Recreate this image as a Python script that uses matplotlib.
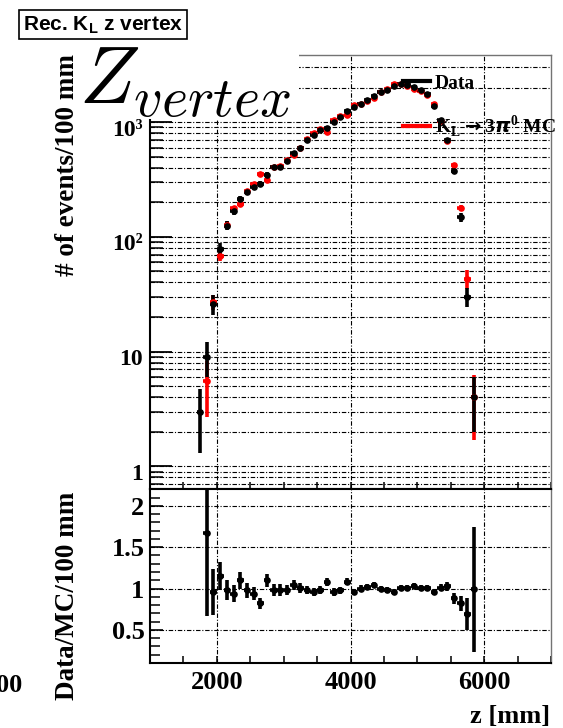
import numpy as np
import matplotlib
matplotlib.use('Agg')
import matplotlib.pyplot as plt
import matplotlib.transforms as mtransforms
from matplotlib.lines import Line2D
from matplotlib.patches import Rectangle
from matplotlib.ticker import MultipleLocator, LogLocator, FuncFormatter, NullFormatter
from matplotlib.font_manager import FontProperties

# bin centres [mm], 100 mm bins
z_bins = [1750, 1850, 1950, 2050, 2150, 2250, 2350, 2450, 2550, 2650,
          2750, 2850, 2950, 3050, 3150, 3250, 3350, 3450, 3550, 3650,
          3750, 3850, 3950, 4050, 4150, 4250, 4350, 4450, 4550, 4650,
          4750, 4850, 4950, 5050, 5150, 5250, 5350, 5450, 5550, 5650,
          5750, 5850]
data_counts = [3, 9, 26, 79, 125, 168, 213, 246, 272, 290,
               347, 402, 409, 462, 540, 595, 700, 770, 850, 880,
               1000, 1105, 1250, 1340, 1450, 1570, 1690, 1820, 1905, 2060,
               2150, 2100, 2010, 1890, 1745, 1385, 1040, 700, 372, 148,
               30, 4]
data_err = [1.7, 3, 5.1, 8.9, 11.2, 13, 14.6, 15.7, 16.5, 17,
            18.6, 20, 20.2, 21.5, 23.2, 24.4, 26.5, 27.7, 29.2, 29.7,
            31.6, 33.2, 35.4, 36.6, 38.1, 39.6, 41.1, 42.7, 43.6, 45.4,
            46.4, 45.8, 44.8, 43.5, 41.8, 37.2, 32.2, 26.5, 19.3, 12.2,
            5.5, 2]
mc_counts = [np.nan, 5.5, 27, 68, 128, 178, 194, 251, 289, 354,
             315, 410, 417, 471, 519, 589, 714, 802, 867, 815,
             1042, 1128, 1157, 1396, 1450, 1540, 1625, 1820, 1944, 2146,
             2129, 2079, 1951, 1871, 1728, 1443, 1030, 680, 423, 180,
             43, 4.0]
mc_err = [np.nan, 2.8, 4, 6, 8, 9, 9, 10, 11, 12,
          11, 13, 13, 14, 15, 16, 17, 18, 19, 18,
          20, 21, 22, 24, 24, 25, 26, 27, 28, 29,
          29, 29, 28, 27, 26, 24, 20, 16, 13, 9,
          8, 2.3]
ratio = [np.nan, 1.67, 0.96, 1.15, 0.98, 0.94, 1.10, 0.98, 0.94, 0.82,
         1.10, 0.98, 0.98, 0.98, 1.04, 1.01, 0.98, 0.96, 0.98, 1.08,
         0.96, 0.98, 1.08, 0.96, 1.00, 1.02, 1.04, 1.00, 0.98, 0.96,
         1.01, 1.01, 1.03, 1.01, 1.01, 0.96, 1.01, 1.03, 0.88, 0.82,
         0.69, 0.99]
ratio_err = [np.nan, 1.0, 0.28, 0.17, 0.12, 0.10, 0.10, 0.09, 0.08, 0.07,
             0.08, 0.07, 0.07, 0.06, 0.06, 0.06, 0.05, 0.05, 0.05, 0.05,
             0.045, 0.043, 0.042, 0.04, 0.038, 0.037, 0.036, 0.035, 0.034, 0.033,
             0.032, 0.032, 0.033, 0.034, 0.035, 0.038, 0.045, 0.055, 0.07, 0.09,
             0.19, 0.76]
half_bin = 50
log_labels = {1: '1', 10: '10', 100: '10\u00b2', 1000: '10\u00b3'}

plt.rcParams['font.family'] = ['Liberation Serif', 'DejaVu Serif']
plt.rcParams['font.weight'] = 'bold'

W, H = 563, 728
fig = plt.figure(figsize=(W / 100, H / 100), dpi=100)


def fx(px):
    return px / W


def fy(py):
    return 1 - py / H


grid_kw = dict(color='black', linewidth=0.8, linestyle=(0, (4, 1.6, 1, 1.6)))
bar_kw = dict(fmt='o', ms=4.8, mew=0, elinewidth=2.6, capsize=0)

ax_top = fig.add_axes([fx(150), fy(489.3), fx(551) - fx(150), fy(54.7) - fy(489.3)])
ax_bot = fig.add_axes([fx(150), fy(663), fx(551) - fx(150), fy(489.3) - fy(663)])
ax_top.set_zorder(1)
ax_bot.set_zorder(2)

# ---- top pad: distributions
ax_top.set_yscale('log')
ax_top.errorbar(z_bins, mc_counts, xerr=half_bin, yerr=mc_err, color='red', **bar_kw)
ax_top.errorbar(z_bins, data_counts, xerr=half_bin, yerr=data_err, color='black', **bar_kw)
ax_top.set_xlim(1000, 7000)
ax_top.set_ylim(0.63, 3866)
ax_top.xaxis.set_major_locator(MultipleLocator(2000))
ax_top.xaxis.set_minor_locator(MultipleLocator(500))
ax_top.yaxis.set_major_locator(LogLocator(base=10))
ax_top.yaxis.set_minor_locator(LogLocator(base=10, subs=np.arange(2, 10)))
ax_top.yaxis.set_major_formatter(FuncFormatter(lambda v, p: log_labels.get(int(round(v)), '')))
ax_top.yaxis.set_minor_formatter(NullFormatter())
ax_top.grid(True, which='both', axis='y', **grid_kw)
ax_top.grid(True, which='major', axis='x', **grid_kw)
ax_top.tick_params(axis='y', which='major', direction='in', length=16, width=1.3,
                   labelsize=17, pad=5)
ax_top.tick_params(axis='y', which='minor', direction='in', length=9, width=1.1)
ax_top.tick_params(axis='x', which='both', direction='in', length=5, width=1.1,
                   labelbottom=False)
for s in ['left', 'bottom']:
    ax_top.spines[s].set_linewidth(1.5)
for s in ['top', 'right']:
    ax_top.spines[s].set_color('0.45')
    ax_top.spines[s].set_linewidth(1)

# ROOT puts the log labels a little below their ticks
shift_down = mtransforms.ScaledTranslation(0, -4 / 72, fig.dpi_scale_trans)
for tk in ax_top.yaxis.get_major_ticks():
    tk.label1.set_transform(tk.label1.get_transform() + shift_down)

handles = [Line2D([], [], color='black', lw=3), Line2D([], [], color='red', lw=3)]
labels = ['Data', r'K$_\mathregular{L}$$\rightarrow$3$\pi^\mathregular{0}$ MC']
ax_top.legend(handles, labels, loc='upper left', bbox_to_anchor=(fx(403), fy(74)),
              bbox_transform=fig.transFigure, frameon=False,
              prop=FontProperties(family='Liberation Serif', weight='bold', size=14),
              handlelength=1.4, handletextpad=0.25, labelspacing=1.1,
              borderpad=0, borderaxespad=0)

# ---- bottom pad: ratio
ax_bot.errorbar(z_bins, ratio, xerr=half_bin, yerr=ratio_err, color='black', **bar_kw)
ax_bot.set_xlim(1000, 7000)
ax_bot.set_ylim(0.1, 2.2)
ax_bot.xaxis.set_major_locator(MultipleLocator(2000))
ax_bot.xaxis.set_minor_locator(MultipleLocator(500))
ax_bot.yaxis.set_major_locator(MultipleLocator(0.5))
ax_bot.yaxis.set_minor_locator(MultipleLocator(0.1))
ax_bot.yaxis.set_major_formatter(FuncFormatter(lambda v, p: '%g' % v))
ax_bot.grid(True, which='major', **grid_kw)
ax_bot.tick_params(axis='y', which='major', direction='in', length=9, width=1.2,
                   labelsize=19, pad=4)
ax_bot.tick_params(axis='y', which='minor', direction='in', length=7, width=1.1)
ax_bot.tick_params(axis='x', which='both', direction='in', length=5, width=1.1,
                   labelsize=19, pad=6)
for s in ['left', 'bottom', 'top']:
    ax_bot.spines[s].set_linewidth(1.5)
ax_bot.spines['right'].set_color('0.45')
ax_bot.spines['right'].set_linewidth(1)

# ---- labels
fig.text(fx(68), fy(165), '# of events/100 mm', rotation=90, ha='center', va='center',
         fontsize=19.5)
fig.text(fx(67), fy(596), 'Data/MC/100 mm', rotation=90, ha='center', va='center',
         fontsize=19.5)
fig.text(fx(550), fy(716), 'z [mm]', ha='right', va='center', fontsize=19)

# big Z_vertex label with a white box behind it
fig.patches.append(Rectangle((fx(79), fy(119)), fx(299) - fx(79), fy(38) - fy(119),
                             transform=fig.transFigure, facecolor='white',
                             edgecolor='none', zorder=9))
fig.text(fx(79), fy(103), r'$Z_{vertex}$', math_fontfamily='cm', fontsize=58,
         fontweight='normal', ha='left', va='baseline', zorder=10)

# canvas title box
fig.text(fx(23), fy(30), r'Rec. K$_\mathregular{L}$ z vertex', family='Liberation Sans',
         fontweight='bold', fontsize=15, ha='left', va='baseline', zorder=10,
         bbox=dict(boxstyle='square,pad=0.18', facecolor='white', edgecolor='black', lw=1.2))

# cut-off label from the neighbouring plot
fig.text(fx(22), fy(686), '00', ha='right', va='center', fontsize=19)

fig.savefig('out.png', dpi=100)
